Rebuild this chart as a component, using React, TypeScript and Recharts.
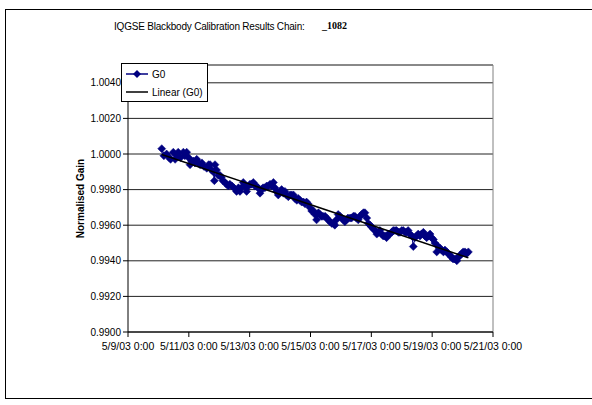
import React from 'react'
import {
  ScatterChart,
  Scatter,
  XAxis,
  YAxis,
  CartesianGrid,
  ReferenceLine,
  Legend,
} from 'recharts'

// days since 5/9/03 0:00
const days = [
  1.11, 1.18, 1.27, 1.35, 1.4, 1.49, 1.55, 1.61, 1.65, 1.73, 1.82, 1.87, 1.93, 1.99,
  2.04, 2.09, 2.15, 2.2, 2.26, 2.32, 2.37, 2.43, 2.5, 2.59, 2.65, 2.7, 2.75, 2.8, 2.84,
  2.86, 2.91, 2.97, 3.02, 3.07, 3.12, 3.19, 3.24, 3.3, 3.35, 3.42, 3.48, 3.57, 3.63,
  3.68, 3.73, 3.79, 3.85, 3.9, 3.96, 4.01, 4.06, 4.12, 4.17, 4.22, 4.27, 4.34, 4.39,
  4.44, 4.5, 4.56, 4.62, 4.67, 4.72, 4.78, 4.83, 4.88, 4.94, 5.0, 5.05, 5.11, 5.16,
  5.21, 5.27, 5.33, 5.38, 5.44, 5.49, 5.55, 5.6, 5.65, 5.71, 5.77, 5.82, 5.87, 5.92,
  5.98, 6.04, 6.1, 6.15, 6.2, 6.26, 6.31, 6.36, 6.41, 6.48, 6.53, 6.58, 6.64, 6.7,
  6.76, 6.8, 6.85, 6.91, 6.97, 7.02, 7.08, 7.13, 7.18, 7.23, 7.3, 7.35, 7.41, 7.46,
  7.51, 7.57, 7.63, 7.68, 7.74, 7.79, 7.85, 7.9, 7.96, 8.01, 8.06, 8.12, 8.18, 8.23,
  8.28, 8.34, 8.39, 8.45, 8.5, 8.56, 8.61, 8.67, 8.72, 8.78, 8.83, 8.89, 8.94, 9.0,
  9.05, 9.11, 9.16, 9.21, 9.27, 9.33, 9.38, 9.43, 9.49, 9.54, 9.6, 9.65, 9.71, 9.76,
  9.82, 9.87, 9.93, 9.98, 10.04, 10.09, 10.15, 10.2, 10.26, 10.31, 10.37, 10.42,
  10.48, 10.53, 10.59, 10.64, 10.69, 10.75, 10.81, 10.86, 10.91, 10.97, 11.02, 11.08,
  11.13, 11.19,
]

const g0 = [
  1.0003, 0.9999, 1.0, 0.9998, 0.9997, 1.0001, 0.9997, 0.9999, 1.0001, 0.9998, 1.0001,
  0.9999, 1.0001, 0.9998, 0.9994, 0.9996, 0.9996, 0.9995, 0.9997, 0.9995, 0.9994,
  0.9995, 0.9993, 0.9992, 0.9994, 0.9994, 0.9991, 0.999, 0.9985, 0.9994, 0.9991,
  0.9988, 0.9988, 0.9987, 0.9985, 0.9984, 0.9983, 0.9982, 0.9983, 0.9982, 0.9981,
  0.9979, 0.9981, 0.9979, 0.9981, 0.9984, 0.9982, 0.9979, 0.9982, 0.9983, 0.9983,
  0.9984, 0.9982, 0.9982, 0.9981, 0.9978, 0.998, 0.9981, 0.9981, 0.9982, 0.9982,
  0.9983, 0.9982, 0.9984, 0.9981, 0.9979, 0.9977, 0.9979, 0.998, 0.9978, 0.9979,
  0.9977, 0.9976, 0.9977, 0.9977, 0.9977, 0.9975, 0.9974, 0.9975, 0.9974, 0.9973,
  0.9973, 0.9972, 0.9973, 0.9972, 0.997, 0.9968, 0.9968, 0.9966, 0.9963, 0.9967,
  0.9966, 0.9965, 0.9965, 0.9965, 0.9964, 0.9963, 0.9962, 0.9961, 0.9961, 0.996,
  0.9963, 0.9966, 0.9965, 0.9964, 0.9963, 0.9962, 0.9963, 0.9964, 0.9964, 0.9964,
  0.9965, 0.9965, 0.9964, 0.9963, 0.9965, 0.9966, 0.9967, 0.9967, 0.9964, 0.9961,
  0.996, 0.9959, 0.9958, 0.9957, 0.9955, 0.9956, 0.9957, 0.9955, 0.9954, 0.9954,
  0.9953, 0.9955, 0.9955, 0.9956, 0.9957, 0.9957, 0.9957, 0.9956, 0.9956, 0.9957,
  0.9957, 0.9956, 0.9956, 0.9957, 0.9955, 0.9954, 0.9948, 0.9953, 0.9954, 0.9955,
  0.9954, 0.9955, 0.9956, 0.9954, 0.9953, 0.9954, 0.9955, 0.9953, 0.9952, 0.995,
  0.9945, 0.9948, 0.9947, 0.9946, 0.9945, 0.9946, 0.9945, 0.9944, 0.9943, 0.9942,
  0.9941, 0.9941, 0.994, 0.9942, 0.9943, 0.9944, 0.9945, 0.9945, 0.9944, 0.9945,
]

const xTicks = [0, 2, 4, 6, 8, 10, 12]
const xTickLabels = [
  '5/9/03 0:00',
  '5/11/03 0:00',
  '5/13/03 0:00',
  '5/15/03 0:00',
  '5/17/03 0:00',
  '5/19/03 0:00',
  '5/21/03 0:00',
]
const yTicks = [0.99, 0.992, 0.994, 0.996, 0.998, 1.0, 1.002, 1.004]

const n = Math.min(days.length, g0.length)
const seriesData = days.slice(0, n).map((d, i) => ({ x: d, y: g0[i] }))

// least squares fit, like Excel's linear trendline
const mx = seriesData.reduce((s, p) => s + p.x, 0) / n
const my = seriesData.reduce((s, p) => s + p.y, 0) / n
let sxy = 0
let sxx = 0
seriesData.forEach((p) => {
  sxy += (p.x - mx) * (p.y - my)
  sxx += (p.x - mx) * (p.x - mx)
})
const slope = sxy / sxx
const icpt = my - slope * mx
const trendData = [seriesData[0].x, seriesData[n - 1].x].map((x) => ({
  x,
  y: icpt + slope * x,
}))

const NAVY = '#000080'
const FONT = '"Liberation Sans", Arial, sans-serif'

const Diamond = (props: any) => {
  const { cx, cy } = props
  if (cx == null || cy == null) return null
  const r = 4
  return (
    <polygon
      points={`${cx},${cy - r} ${cx + r},${cy} ${cx},${cy + r} ${cx - r},${cy}`}
      fill={NAVY}
      stroke={NAVY}
      strokeWidth={0.5}
    />
  )
}

const renderLegend = () => (
  <div
    style={{
      border: '1px solid #000',
      background: '#fff',
      width: 85,
      height: 37,
      fontFamily: FONT,
      fontSize: 10,
      color: '#000',
      boxSizing: 'content-box',
    }}
  >
    <div style={{ display: 'flex', alignItems: 'center', height: 18, marginTop: 1 }}>
      <svg width={26} height={10} style={{ marginLeft: 3 }}>
        <line x1={1} y1={5} x2={23} y2={5} stroke={NAVY} strokeWidth={1.5} />
        <polygon points="12,1 16,5 12,9 8,5" fill={NAVY} />
      </svg>
      <span style={{ marginLeft: 1 }}>G0</span>
    </div>
    <div style={{ display: 'flex', alignItems: 'center', height: 18 }}>
      <svg width={26} height={10} style={{ marginLeft: 3 }}>
        <line x1={1} y1={5} x2={23} y2={5} stroke="#000" strokeWidth={1.5} />
      </svg>
      <span style={{ marginLeft: 1 }}>Linear (G0)</span>
    </div>
  </div>
)

export default function App() {
  return (
    <div style={{ position: 'absolute', left: 0, top: 0, width: 592, height: 405, background: '#fff' }}>
      <div
        style={{
          position: 'absolute',
          left: 5,
          top: 9,
          width: 590,
          height: 388,
          borderLeft: '1px solid #000',
          borderTop: '1px solid #000',
          borderBottom: '1px solid #000',
        }}
      />
      <div
        style={{
          position: 'absolute',
          left: 114,
          top: 21,
          fontFamily: FONT,
          fontSize: 10,
          letterSpacing: -0.2,
          whiteSpace: 'nowrap',
          color: '#000',
        }}
      >
        IQGSE Blackbody Calibration Results Chain:
      </div>
      <div
        style={{
          position: 'absolute',
          left: 322,
          top: 20,
          fontFamily: '"Liberation Serif", "Times New Roman", serif',
          fontWeight: 'bold',
          fontSize: 10,
          whiteSpace: 'nowrap',
          color: '#000',
        }}
      >
        _1082
      </div>
      <div style={{ position: 'absolute', left: 0, top: 0 }}>
        <ScatterChart
          width={592}
          height={405}
          margin={{ top: 65, right: 99, bottom: 43, left: 0 }}
        >
          <CartesianGrid horizontal vertical={false} stroke="#222" strokeWidth={1} />
          <XAxis
            type="number"
            dataKey="x"
            domain={[0, 12]}
            ticks={xTicks}
            tickFormatter={(v: number) => xTickLabels[xTicks.indexOf(v)] ?? ''}
            height={30}
            tickSize={5}
            tickMargin={6}
            stroke="#000"
            tick={{ fill: '#000', fontSize: 10.5, fontFamily: FONT }}
            interval={0}
            allowDataOverflow
          />
          <YAxis
            type="number"
            dataKey="y"
            domain={[0.99, 1.005]}
            ticks={yTicks}
            tickFormatter={(v: number) => v.toFixed(4)}
            width={128}
            tickSize={5}
            tickMargin={2}
            stroke="#000"
            tick={{ fill: '#000', fontSize: 10, fontFamily: FONT }}
            interval={0}
            allowDataOverflow
            label={{
              value: 'Normalised Gain',
              angle: -90,
              position: 'center',
              dx: 16,
              style: { fontFamily: FONT, fontSize: 10, fontWeight: 'bold', fill: '#000' },
            }}
          />
          <ReferenceLine y={1.005} stroke="#808080" ifOverflow="extendDomain" />
          <ReferenceLine x={12} stroke="#808080" />
          <Scatter
            name="G0"
            data={seriesData}
            fill={NAVY}
            line={{ stroke: NAVY, strokeWidth: 1 }}
            shape={<Diamond />}
            isAnimationActive={false}
          />
          <Scatter
            name="Linear (G0)"
            data={trendData}
            fill="#000"
            line={{ stroke: '#000', strokeWidth: 1.5 }}
            shape={() => <g />}
            isAnimationActive={false}
          />
          <Legend
            layout="vertical"
            align="center"
            verticalAlign="middle"
            content={renderLegend}
            wrapperStyle={{ left: 121, top: 63, width: 87, height: 39 }}
          />
        </ScatterChart>
      </div>
    </div>
  )
}
